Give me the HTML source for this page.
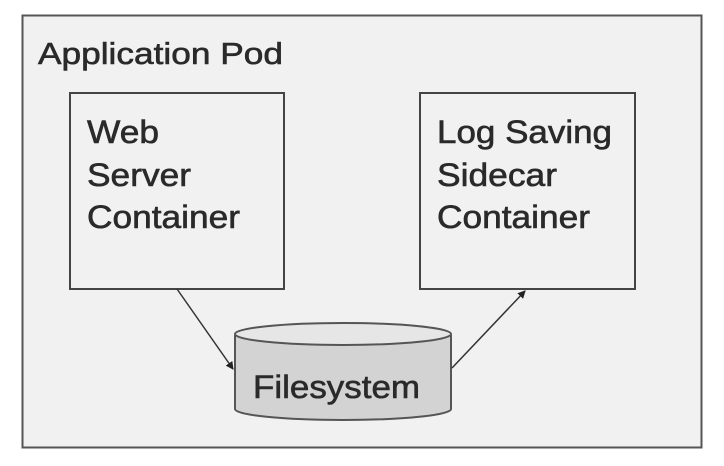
<!DOCTYPE html>
<html><head><style>body{margin:0;background:#fff}</style></head><body>
<svg width="724" height="461" viewBox="0 0 724 461" xmlns="http://www.w3.org/2000/svg" font-family="Liberation Sans, sans-serif" fill="#333">
<defs><marker id="a" markerWidth="8" markerHeight="8" refX="7" refY="4" orient="auto" markerUnits="userSpaceOnUse"><path d="M0,0 L8,4 L0,8 z" fill="#222"/></marker></defs>
<rect x="22.5" y="15.5" width="679" height="432" fill="#f1f1f1" stroke="#555" stroke-width="2"/>
<g fill="#2a2a2a" stroke="#2a2a2a" stroke-width="0.6" lengthAdjust="spacingAndGlyphs">
<text x="38" y="64" font-size="31" textLength="245" lengthAdjust="spacingAndGlyphs">Application Pod</text>
<g font-size="32">
<text x="87" y="143" textLength="72" lengthAdjust="spacingAndGlyphs">Web</text>
<text x="87" y="186" textLength="104" lengthAdjust="spacingAndGlyphs">Server</text>
<text x="87" y="228" textLength="153" lengthAdjust="spacingAndGlyphs">Container</text>
<text x="437" y="143" textLength="175" lengthAdjust="spacingAndGlyphs">Log Saving</text>
<text x="437" y="186" textLength="120" lengthAdjust="spacingAndGlyphs">Sidecar</text>
<text x="437" y="228" textLength="153" lengthAdjust="spacingAndGlyphs">Container</text>
</g>
</g>
<rect x="70" y="93" width="214" height="196" fill="none" stroke="#444" stroke-width="2"/>
<rect x="420" y="93" width="215" height="196" fill="none" stroke="#444" stroke-width="2"/>
<path d="M235,335 L235,409 A108,11 0 0 0 451,409 L451,335" fill="#d3d3d3" stroke="#555" stroke-width="2"/>
<ellipse cx="343" cy="334" rx="108" ry="11" fill="#e6e6e6" stroke="#555" stroke-width="2"/>
<text x="253" y="398" font-size="32" fill="#2a2a2a" stroke="#2a2a2a" stroke-width="0.6" textLength="167" lengthAdjust="spacingAndGlyphs">Filesystem</text>
<line x1="177" y1="289" x2="233" y2="369" stroke="#333" stroke-width="1.5" marker-end="url(#a)"/>
<line x1="452" y1="368" x2="525" y2="291" stroke="#333" stroke-width="1.5" marker-end="url(#a)"/>
</svg>
</body></html>
